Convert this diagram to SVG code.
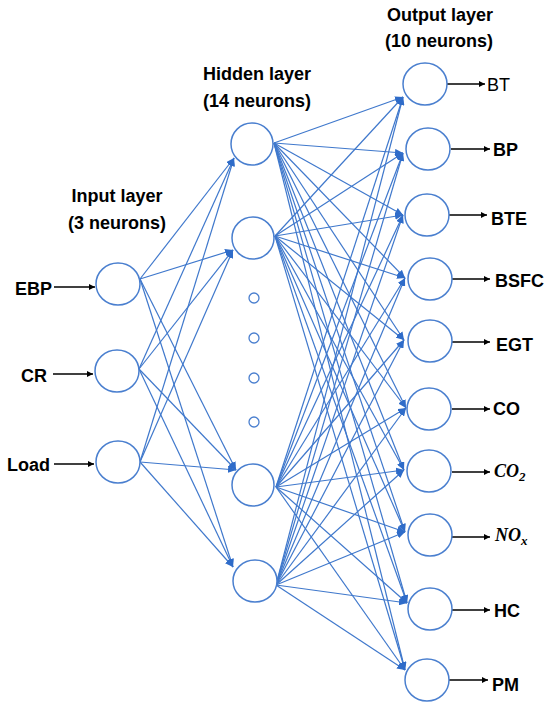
<svg xmlns="http://www.w3.org/2000/svg" width="550" height="711" viewBox="0 0 550 711">
<style>
.n{fill:#fff;stroke:#4a7fcf;stroke-width:1.5}
.d{fill:#fff;stroke:#4a7fcf;stroke-width:1.3}
.c line{stroke:#3f78cc;stroke-width:1.2;marker-end:url(#ab)}
.k line{stroke:#000;stroke-width:1.3;marker-end:url(#ak)}
.t{font-family:"Liberation Sans",Arial,sans-serif;font-size:18px;font-weight:bold;fill:#000}
.r{font-family:"Liberation Sans",Arial,sans-serif;font-size:18px;fill:#000}
.m{font-family:"Liberation Serif","Times New Roman",serif;font-size:18px;font-style:italic;font-weight:bold;fill:#000}
.h{font-family:"Liberation Sans",Arial,sans-serif;font-size:18px;font-weight:bold;fill:#000;text-anchor:middle}
</style>
<defs>
<marker id="ab" markerUnits="userSpaceOnUse" markerWidth="9" markerHeight="7" refX="8" refY="3.5" orient="auto"><path d="M0,0 L8,3.5 L0,7 z" fill="#2f6cc9"/></marker>
<marker id="ak" markerUnits="userSpaceOnUse" markerWidth="7" markerHeight="6" refX="6" refY="3" orient="auto"><path d="M0,0 L6,3 L0,6 z" fill="#000"/></marker>
</defs>
<rect width="550" height="711" fill="#fff"/>
<g id="layer-labels">
<text class="h" x="117" y="202">Input layer</text>
<text class="h" x="117" y="229">(3 neurons)</text>
<text class="h" x="257" y="80">Hidden layer</text>
<text class="h" x="257" y="107">(14 neurons)</text>
<text class="h" x="440" y="21">Output layer</text>
<text class="h" x="439" y="47">(10 neurons)</text>
</g>
<g id="connectors" class="c">
<line x1="140" y1="279" x2="234" y2="158"/>
<line x1="140" y1="279" x2="233" y2="250"/>
<line x1="140" y1="279" x2="236" y2="470"/>
<line x1="140" y1="279" x2="233" y2="567"/>
<line x1="139" y1="369" x2="234" y2="158"/>
<line x1="139" y1="369" x2="233" y2="250"/>
<line x1="139" y1="369" x2="236" y2="470"/>
<line x1="139" y1="369" x2="233" y2="567"/>
<line x1="140" y1="462" x2="234" y2="158"/>
<line x1="140" y1="462" x2="233" y2="250"/>
<line x1="140" y1="462" x2="236" y2="470"/>
<line x1="140" y1="462" x2="233" y2="567"/>
<line x1="274" y1="143" x2="403" y2="97"/>
<line x1="274" y1="143" x2="403" y2="153"/>
<line x1="274" y1="143" x2="403" y2="215"/>
<line x1="274" y1="143" x2="405" y2="278"/>
<line x1="274" y1="143" x2="404" y2="340"/>
<line x1="274" y1="143" x2="406" y2="408"/>
<line x1="274" y1="143" x2="404" y2="470"/>
<line x1="274" y1="143" x2="405" y2="532"/>
<line x1="274" y1="143" x2="407" y2="603"/>
<line x1="274" y1="143" x2="405" y2="670"/>
<line x1="275" y1="236" x2="403" y2="97"/>
<line x1="275" y1="236" x2="403" y2="153"/>
<line x1="275" y1="236" x2="403" y2="215"/>
<line x1="275" y1="236" x2="405" y2="278"/>
<line x1="275" y1="236" x2="404" y2="340"/>
<line x1="275" y1="236" x2="406" y2="408"/>
<line x1="275" y1="236" x2="404" y2="470"/>
<line x1="275" y1="236" x2="405" y2="532"/>
<line x1="275" y1="236" x2="407" y2="603"/>
<line x1="275" y1="236" x2="405" y2="670"/>
<line x1="276" y1="487" x2="403" y2="97"/>
<line x1="276" y1="487" x2="403" y2="153"/>
<line x1="276" y1="487" x2="403" y2="215"/>
<line x1="276" y1="487" x2="405" y2="278"/>
<line x1="276" y1="487" x2="404" y2="340"/>
<line x1="276" y1="487" x2="406" y2="408"/>
<line x1="276" y1="487" x2="404" y2="470"/>
<line x1="276" y1="487" x2="405" y2="532"/>
<line x1="276" y1="487" x2="407" y2="603"/>
<line x1="276" y1="487" x2="405" y2="670"/>
<line x1="276" y1="585" x2="403" y2="97"/>
<line x1="276" y1="585" x2="403" y2="153"/>
<line x1="276" y1="585" x2="403" y2="215"/>
<line x1="276" y1="585" x2="405" y2="278"/>
<line x1="276" y1="585" x2="404" y2="340"/>
<line x1="276" y1="585" x2="406" y2="408"/>
<line x1="276" y1="585" x2="404" y2="470"/>
<line x1="276" y1="585" x2="405" y2="532"/>
<line x1="276" y1="585" x2="407" y2="603"/>
<line x1="276" y1="585" x2="405" y2="670"/>
</g>
<g id="io-arrows" class="k">
<line x1="54" y1="287" x2="95" y2="287"/>
<line x1="53" y1="374" x2="93" y2="374"/>
<line x1="54" y1="464" x2="94" y2="464"/>
<line x1="447" y1="84" x2="485" y2="84"/>
<line x1="451" y1="149" x2="490" y2="149"/>
<line x1="449" y1="215" x2="487" y2="215"/>
<line x1="452" y1="279" x2="490" y2="279"/>
<line x1="452" y1="342" x2="490" y2="342"/>
<line x1="452" y1="409" x2="490" y2="409"/>
<line x1="452" y1="472" x2="490" y2="472"/>
<line x1="452" y1="537" x2="490" y2="537"/>
<line x1="452" y1="610" x2="490" y2="610"/>
<line x1="449" y1="680" x2="488" y2="680"/>
</g>
<g id="in-EBP"><ellipse class="n" cx="118" cy="284" rx="22" ry="21"/><text class="t" x="15" y="295">EBP</text></g>
<g id="in-CR"><ellipse class="n" cx="117" cy="371" rx="22" ry="21"/><text class="t" x="21" y="382">CR</text></g>
<g id="in-Load"><ellipse class="n" cx="118" cy="462" rx="22" ry="21"/><text class="t" x="7" y="471">Load</text></g>
<g id="hid-1"><ellipse class="n" cx="252" cy="144" rx="21" ry="21"/></g>
<g id="hid-2"><ellipse class="n" cx="253" cy="238" rx="21" ry="21"/></g>
<g id="hid-dots">
<circle class="d" cx="254" cy="298" r="5"/>
<circle class="d" cx="254" cy="338" r="5"/>
<circle class="d" cx="254" cy="378" r="5"/>
<circle class="d" cx="254" cy="422" r="5"/>
</g>
<g id="hid-3"><ellipse class="n" cx="253" cy="485" rx="21" ry="21"/></g>
<g id="hid-4"><ellipse class="n" cx="255" cy="581" rx="22" ry="21"/></g>
<g id="out-BT"><ellipse class="n" cx="425" cy="84" rx="22" ry="21"/><text class="r" x="487" y="91">BT</text></g>
<g id="out-BP"><ellipse class="n" cx="428" cy="149" rx="22" ry="21"/><text class="t" x="493" y="156">BP</text></g>
<g id="out-BTE"><ellipse class="n" cx="427" cy="215" rx="22" ry="21"/><text class="t" x="491" y="225">BTE</text></g>
<g id="out-BSFC"><ellipse class="n" cx="430" cy="279" rx="22" ry="21"/><text class="t" x="495" y="287">BSFC</text></g>
<g id="out-EGT"><ellipse class="n" cx="430" cy="341" rx="22" ry="21"/><text class="t" x="496" y="351">EGT</text></g>
<g id="out-CO"><ellipse class="n" cx="429" cy="409" rx="22" ry="21"/><text class="t" x="493" y="415">CO</text></g>
<g id="out-CO2"><ellipse class="n" cx="429" cy="471" rx="22" ry="21"/><text class="m" x="494" y="477">CO<tspan font-size="13" dy="4">2</tspan></text></g>
<g id="out-NOx"><ellipse class="n" cx="430" cy="535" rx="22" ry="21"/><text class="m" x="495" y="541">NO<tspan font-size="13" dy="4">x</tspan></text></g>
<g id="out-HC"><ellipse class="n" cx="430" cy="609" rx="22" ry="21"/><text class="t" x="494" y="617">HC</text></g>
<g id="out-PM"><ellipse class="n" cx="427" cy="680" rx="22" ry="21"/><text class="t" x="492" y="691">PM</text></g>
</svg>
